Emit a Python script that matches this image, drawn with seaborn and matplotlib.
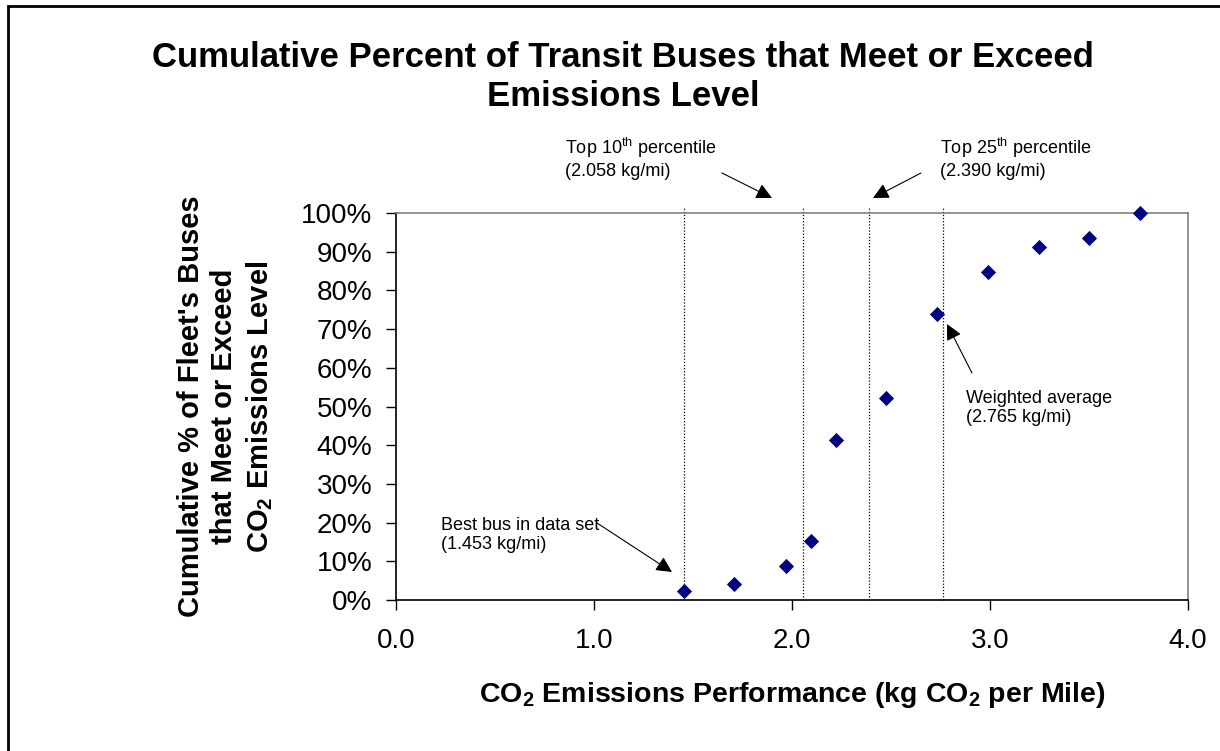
import numpy as np
import pandas as pd
import matplotlib
matplotlib.use("Agg")
import matplotlib.pyplot as plt
import seaborn as sns
from matplotlib.patches import Rectangle
from matplotlib.ticker import FuncFormatter

# data
emissions = [1.453, 1.709, 1.968, 2.094, 2.220, 2.476, 2.732, 2.989, 3.245, 3.500, 3.756]
cum_pct = [2.2, 4.2, 8.8, 15.2, 41.3, 52.2, 73.9, 84.8, 91.2, 93.5, 100.0]
ref_lines = [1.453, 2.058, 2.390, 2.765]
x_ticks = [0.0, 1.0, 2.0, 3.0, 4.0]
y_ticks = list(range(0, 101, 10))

df = pd.DataFrame({"emissions": emissions, "cum_pct": cum_pct})

sns.set_style("white")
plt.rcParams["font.family"] = ["Liberation Sans", "DejaVu Sans"]
plt.rcParams["mathtext.fontset"] = "custom"
plt.rcParams["mathtext.rm"] = "Liberation Sans"
plt.rcParams["mathtext.bf"] = "Liberation Sans:bold"
plt.rcParams["text.color"] = "black"
plt.rcParams["axes.labelcolor"] = "black"
plt.rcParams["xtick.color"] = "black"
plt.rcParams["ytick.color"] = "black"

fig = plt.figure(figsize=(12.2, 7.51), dpi=100)
ax = fig.add_axes([396/1220, 151/751, 792/1220, 387/751])

for xv in ref_lines:
    ax.axvline(xv, ymin=0, ymax=1.015, color="black", ls=(0, (1, 1.5)), lw=0.9, clip_on=False, zorder=1)

sns.scatterplot(data=df, x="emissions", y="cum_pct", marker="D", s=60,
                color="#000080", edgecolor="#000080", linewidth=0, ax=ax, zorder=3, clip_on=False)

ax.set_xlim(0, 4)
ax.set_ylim(0, 100)
ax.set_xticks(x_ticks)
ax.set_yticks(y_ticks)
ax.xaxis.set_major_formatter(FuncFormatter(lambda v, p: f"{v:.1f}"))
ax.yaxis.set_major_formatter(FuncFormatter(lambda v, p: f"{v:.0f}%"))
ax.tick_params(axis="both", direction="out", length=7, width=1, colors="black", labelsize=20)
ax.tick_params(axis="x", pad=13)
ax.tick_params(axis="y", pad=10)
ax.xaxis.set_ticks_position("bottom")
ax.yaxis.set_ticks_position("left")

for side in ["left", "bottom"]:
    ax.spines[side].set_color("black")
    ax.spines[side].set_linewidth(1.2)
for side in ["top", "right"]:
    ax.spines[side].set_color("#808080")
    ax.spines[side].set_linewidth(1.2)

ax.set_xlabel(r"CO$_\mathbf{2}$ Emissions Performance (kg CO$_\mathbf{2}$ per Mile)",
              fontsize=20.5, fontweight="bold", va="center")
ax.xaxis.set_label_coords(0.5, (600 - 695) / 387)
ax.set_ylabel("Cumulative % of Fleet's Buses\nthat Meet or Exceed\n" + r"CO$_\mathbf{2}$ Emissions Level",
              fontsize=21, fontweight="bold", va="center", ha="center", linespacing=1.25)
ax.yaxis.set_label_coords((226 - 396) / 792, 0.5)

fig.text(623/1220, 1 - 77/751, "Cumulative Percent of Transit Buses that Meet or Exceed\nEmissions Level",
         ha="center", va="center", fontsize=25, fontweight="bold", linespacing=1.25)

# annotations with arrows
def px(xp, yp):
    return ((xp - 396) / 198, (600 - yp) / 3.87)

arrow_kw = dict(arrowstyle="-|>", mutation_scale=24, lw=0.8, color="black", shrinkA=0, shrinkB=0)
notes = [
    ("Best bus in data set\n(1.453 kg/mi)", (441, 535), (597, 523), (672, 572)),
    ("Weighted average\n(2.765 kg/mi)", (966, 408), (972, 373), (947, 324)),
    ("Top 10$^{\\rm th}$ percentile\n(2.058 kg/mi)", (565, 158), (722, 173), (772, 198)),
    ("Top 25$^{\\rm th}$ percentile\n(2.390 kg/mi)", (940, 158), (921, 173), (873, 198)),
]
for txt, tpos, tail, tip in notes:
    ax.text(*px(*tpos), txt, fontsize=13, ha="left", va="center", linespacing=1.2, clip_on=False)
    ax.annotate("", xy=px(*tip), xytext=px(*tail), arrowprops=arrow_kw, annotation_clip=False)

# outer border of the chart area
fig.add_artist(Rectangle((8/1220, -0.2), 1.2, 0.2 + 1 - 6/751, transform=fig.transFigure,
                         fill=False, edgecolor="black", lw=2, clip_on=False))

fig.savefig("out.png", dpi=100)
